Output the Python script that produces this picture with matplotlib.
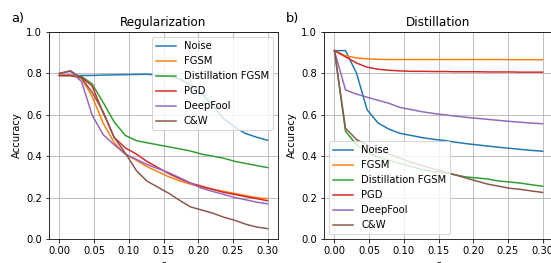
import numpy as np
import matplotlib.pyplot as plt

# perturbation size (20 steps from 0 to 0.3)
eps = [0.000, 0.016, 0.032, 0.047, 0.063, 0.079, 0.095, 0.111, 0.126, 0.142,
       0.158, 0.174, 0.189, 0.205, 0.221, 0.237, 0.253, 0.268, 0.284, 0.300]

labels = ["Noise", "FGSM", "Distillation FGSM", "PGD", "DeepFool", "C&W"]

# ---- a) Regularization
reg_noise = [0.79, 0.79, 0.79, 0.79, 0.792, 0.793, 0.794, 0.795, 0.796, 0.792,
             0.785, 0.772, 0.745, 0.705, 0.645, 0.58, 0.54, 0.51, 0.492, 0.477]
reg_fgsm = [0.79, 0.79, 0.775, 0.69, 0.56, 0.465, 0.41, 0.38, 0.35, 0.325,
            0.30, 0.28, 0.265, 0.25, 0.24, 0.23, 0.22, 0.21, 0.20, 0.195]
reg_dfgsm = [0.79, 0.79, 0.785, 0.75, 0.66, 0.565, 0.50, 0.475, 0.465, 0.455,
             0.445, 0.435, 0.425, 0.41, 0.40, 0.39, 0.375, 0.365, 0.355, 0.345]
reg_pgd = [0.79, 0.79, 0.78, 0.74, 0.61, 0.49, 0.44, 0.41, 0.375, 0.345,
           0.315, 0.29, 0.27, 0.255, 0.24, 0.225, 0.215, 0.205, 0.195, 0.185]
reg_deepfool = [0.80, 0.81, 0.76, 0.60, 0.504, 0.455, 0.41, 0.385, 0.36, 0.34,
                0.32, 0.295, 0.27, 0.245, 0.23, 0.215, 0.20, 0.19, 0.178, 0.17]
reg_cw = [0.80, 0.813, 0.776, 0.71, 0.615, 0.49, 0.415, 0.33, 0.28, 0.25,
          0.22, 0.185, 0.155, 0.14, 0.125, 0.105, 0.09, 0.072, 0.058, 0.05]

# ---- b) Distillation
dis_noise = [0.91, 0.91, 0.80, 0.625, 0.56, 0.53, 0.51, 0.50, 0.49, 0.482,
             0.476, 0.468, 0.461, 0.455, 0.449, 0.443, 0.438, 0.433, 0.428, 0.424]
dis_fgsm = [0.91, 0.885, 0.875, 0.87, 0.868, 0.867, 0.867, 0.867, 0.867, 0.867,
            0.867, 0.867, 0.867, 0.867, 0.867, 0.867, 0.866, 0.866, 0.866, 0.866]
dis_dfgsm = [0.91, 0.52, 0.455, 0.42, 0.395, 0.38, 0.365, 0.35, 0.335, 0.325,
             0.32, 0.31, 0.30, 0.295, 0.29, 0.28, 0.275, 0.27, 0.262, 0.255]
dis_pgd = [0.91, 0.88, 0.85, 0.83, 0.82, 0.815, 0.812, 0.81, 0.81, 0.809,
           0.809, 0.808, 0.808, 0.808, 0.807, 0.807, 0.807, 0.806, 0.806, 0.806]
dis_deepfool = [0.91, 0.72, 0.70, 0.685, 0.67, 0.655, 0.635, 0.625, 0.615, 0.607,
                0.60, 0.594, 0.588, 0.583, 0.578, 0.573, 0.568, 0.564, 0.56, 0.557]
dis_cw = [0.91, 0.535, 0.48, 0.455, 0.43, 0.41, 0.39, 0.37, 0.355, 0.34,
          0.325, 0.31, 0.295, 0.28, 0.265, 0.255, 0.245, 0.24, 0.232, 0.225]

reg = [reg_noise, reg_fgsm, reg_dfgsm, reg_pgd, reg_deepfool, reg_cw]
dis = [dis_noise, dis_fgsm, dis_dfgsm, dis_pgd, dis_deepfool, dis_cw]

W, H = 551, 263
fig = plt.figure(figsize=(W / 72, H / 72), dpi=72)

ax1 = fig.add_axes([49 / W, 24 / H, 229 / W, 207 / H])
ax2 = fig.add_axes([324 / W, 24 / H, 229 / W, 207 / H])

for ax, data, title, loc in [(ax1, reg, "Regularization", "upper right"),
                             (ax2, dis, "Distillation", "lower left")]:
    for y, lab in zip(data, labels):
        ax.plot(eps, y, label=lab)
    ax.set_ylim(0, 1)
    ax.set_title(title)
    ax.set_xlabel(r"$\epsilon$")
    ax.set_ylabel("Accuracy")
    ax.grid()
    ax.legend(loc=loc)

fig.text(11 / W, 1 - 12 / H, "a)", fontsize=13, va="top")
fig.text(286 / W, 1 - 12 / H, "b)", fontsize=13, va="top")

fig.savefig("out.png", dpi=72)
